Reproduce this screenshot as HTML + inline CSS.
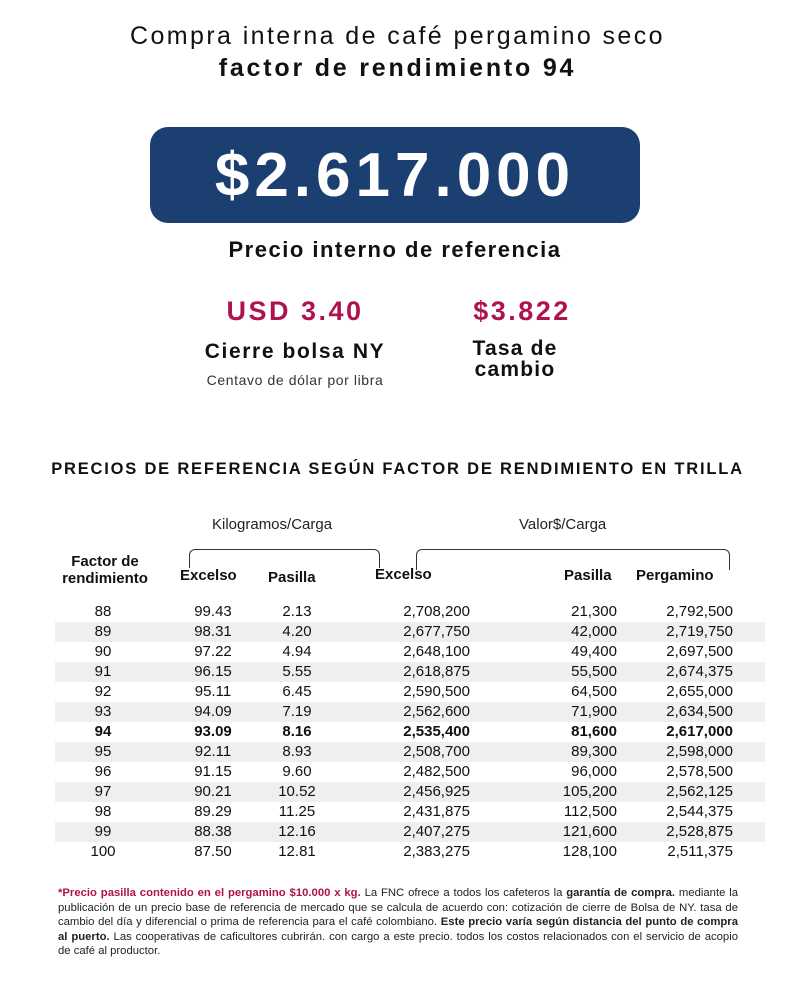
<!DOCTYPE html>
<html><head><meta charset="utf-8"><style>
body{margin:0;width:800px;height:983px;background:#fff;font-family:"Liberation Sans","DejaVu Sans",sans-serif;color:#111;position:relative;overflow:hidden}
.a{position:absolute;white-space:nowrap}
.c{text-align:center}
.r{text-align:right}
.row{position:absolute;left:55px;width:710px;height:20px;font-size:15px}
.row span{position:absolute;top:1px}
.sh{background:#efefef}
</style></head><body>
<div class="a c" style="left:0;width:795px;top:22px;font-size:25px;letter-spacing:2.4px">Compra interna de café pergamino seco</div>
<div class="a c" style="left:0;width:795px;top:54px;font-size:25px;font-weight:bold;letter-spacing:2.8px">factor de rendimiento 94</div>
<div class="a" style="left:150px;top:127px;width:490px;height:96px;background:#1b3f70;border-radius:18px"></div>
<div class="a c" style="left:150px;width:490px;top:140px;font-size:62px;font-weight:bold;color:#fff;letter-spacing:5px">$2.617.000</div>
<div class="a c" style="left:0;width:790px;top:237px;font-size:22px;font-weight:bold;letter-spacing:1.5px">Precio interno de referencia</div>
<div class="a c" style="left:185px;width:220px;top:296px;font-size:27px;font-weight:bold;color:#b0124f;letter-spacing:2.5px">USD 3.40</div>
<div class="a c" style="left:185px;width:220px;top:340px;font-size:21px;font-weight:bold;letter-spacing:1.6px">Cierre bolsa NY</div>
<div class="a c" style="left:175px;width:240px;top:372px;font-size:14px;color:#333;letter-spacing:0.6px">Centavo de dólar por libra</div>
<div class="a c" style="left:452px;width:140px;top:296px;font-size:27px;font-weight:bold;color:#b0124f;letter-spacing:2.5px">$3.822</div>
<div class="a c" style="left:445px;width:140px;top:338px;font-size:21px;font-weight:bold;line-height:21px;letter-spacing:1.2px">Tasa de<br>cambio</div>
<div class="a c" style="left:0;width:795px;top:460px;font-size:16.5px;font-weight:bold;letter-spacing:1.8px">PRECIOS DE REFERENCIA SEGÚN FACTOR DE RENDIMIENTO EN TRILLA</div>
<div class="a" style="left:212px;top:516px;font-size:15px;color:#222">Kilogramos/Carga</div>
<div class="a" style="left:519px;top:516px;font-size:15px;color:#222">Valor$/Carga</div>
<div class="a" style="left:189px;top:549px;width:189px;height:18px;border:1px solid #333;border-bottom:none;border-radius:6px 6px 0 0"></div>
<div class="a" style="left:416px;top:549px;width:312px;height:20px;border:1px solid #333;border-bottom:none;border-radius:6px 6px 0 0"></div>
<div class="a c" style="left:50px;width:110px;top:553px;font-size:15px;font-weight:bold;line-height:17px">Factor de<br>rendimiento</div>
<div class="a" style="left:180px;top:567px;font-size:15px;font-weight:bold">Excelso</div>
<div class="a" style="left:268px;top:569px;font-size:15px;font-weight:bold">Pasilla</div>
<div class="a" style="left:375px;top:566px;font-size:15px;font-weight:bold">Excelso</div>
<div class="a" style="left:564px;top:567px;font-size:15px;font-weight:bold">Pasilla</div>
<div class="a" style="left:636px;top:567px;font-size:15px;font-weight:bold">Pergamino</div>
<div id="t"></div>
<div class="a" style="left:58px;top:886px;width:680px;font-size:11.3px;line-height:14.5px;white-space:normal;text-align:justify;color:#222"><b style="color:#b0124f">*Precio pasilla contenido en el pergamino $10.000 x kg.</b> La FNC ofrece a todos los cafeteros la <b>garantía de compra.</b> mediante la publicación de un precio base de referencia de mercado que se calcula de acuerdo con: cotización de cierre de Bolsa de NY. tasa de cambio del día y diferencial o prima de referencia para el café colombiano. <b>Este precio varía según distancia del punto de compra al puerto.</b> Las cooperativas de caficultores cubrirán. con cargo a este precio. todos los costos relacionados con el servicio de acopio de café al productor.</div>
<script>
var d=[[88,"99.43","2.13","2,708,200","21,300","2,792,500"],[89,"98.31","4.20","2,677,750","42,000","2,719,750"],[90,"97.22","4.94","2,648,100","49,400","2,697,500"],[91,"96.15","5.55","2,618,875","55,500","2,674,375"],[92,"95.11","6.45","2,590,500","64,500","2,655,000"],[93,"94.09","7.19","2,562,600","71,900","2,634,500"],[94,"93.09","8.16","2,535,400","81,600","2,617,000"],[95,"92.11","8.93","2,508,700","89,300","2,598,000"],[96,"91.15","9.60","2,482,500","96,000","2,578,500"],[97,"90.21","10.52","2,456,925","105,200","2,562,125"],[98,"89.29","11.25","2,431,875","112,500","2,544,375"],[99,"88.38","12.16","2,407,275","121,600","2,528,875"],[100,"87.50","12.81","2,383,275","128,100","2,511,375"]];
var h="";d.forEach(function(r,i){var y=602+i*20;h+='<div class="row'+(i%2?' sh':'')+'" style="top:'+y+'px;'+(r[0]==94?'font-weight:bold':'')+'">'+
'<span class="c" style="left:18px;width:60px">'+r[0]+'</span>'+
'<span class="c" style="left:128px;width:60px">'+r[1]+'</span>'+
'<span class="c" style="left:212px;width:60px">'+r[2]+'</span>'+
'<span class="r" style="left:315px;width:100px">'+r[3]+'</span>'+
'<span class="r" style="left:460px;width:102px">'+r[4]+'</span>'+
'<span class="r" style="left:578px;width:100px">'+r[5]+'</span></div>';});
document.getElementById("t").innerHTML=h;
</script>
</body></html>
